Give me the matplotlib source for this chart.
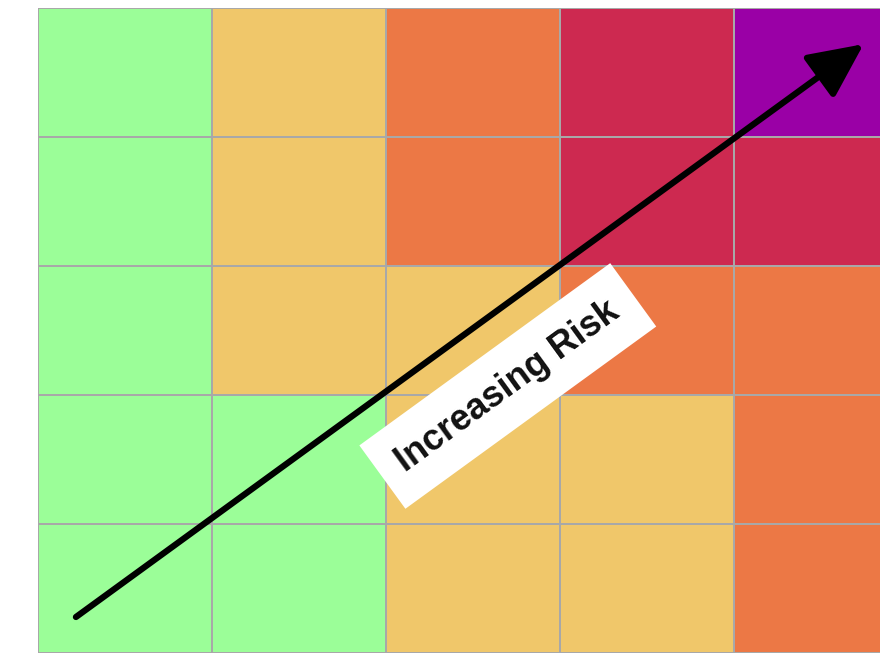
import numpy as np
import matplotlib
matplotlib.use("Agg")
import matplotlib.pyplot as plt
from matplotlib.colors import ListedColormap, BoundaryNorm

# Risk level per cell, rows listed top to bottom
risk_levels = [
    [0, 1, 2, 3, 4],
    [0, 1, 2, 3, 3],
    [0, 1, 1, 2, 2],
    [0, 0, 1, 1, 2],
    [0, 0, 1, 1, 2],
]
level_colors = ["#9BFE98", "#F0C76A", "#EC7845", "#CD2950", "#9A00A6"]
label_text = "Increasing Risk"

fig = plt.figure(figsize=(8.8, 6.53), dpi=100)
fig.patch.set_facecolor("white")
ax = fig.add_axes([38 / 880, 0, 870 / 880, 645 / 653])

grid = np.array(risk_levels)[::-1]
cmap = ListedColormap(level_colors)
norm = BoundaryNorm(np.arange(-0.5, len(level_colors) + 0.5, 1), cmap.N)
ax.pcolormesh(np.arange(grid.shape[1] + 1), np.arange(grid.shape[0] + 1), grid,
              cmap=cmap, norm=norm, edgecolors="#A8A8A8", linewidth=1.2)
ax.set_xlim(0, 5)
ax.set_ylim(0, 5)
ax.axis("off")

ax.annotate("", xy=(4.745, 4.72), xytext=(0.218, 0.279),
            arrowprops=dict(arrowstyle="-|>,head_length=0.42,head_width=0.2",
                            mutation_scale=80, lw=4.5, color="black",
                            shrinkA=0, shrinkB=0))

ax.text(2.70, 2.07, label_text, rotation=36, rotation_mode="anchor",
        ha="center", va="center", fontsize=26, fontweight="bold",
        family=["Liberation Sans", "DejaVu Sans"], color="#111111",
        bbox=dict(boxstyle="square,pad=0.6", facecolor="white", edgecolor="none"))

fig.savefig("out.png", dpi=100)
